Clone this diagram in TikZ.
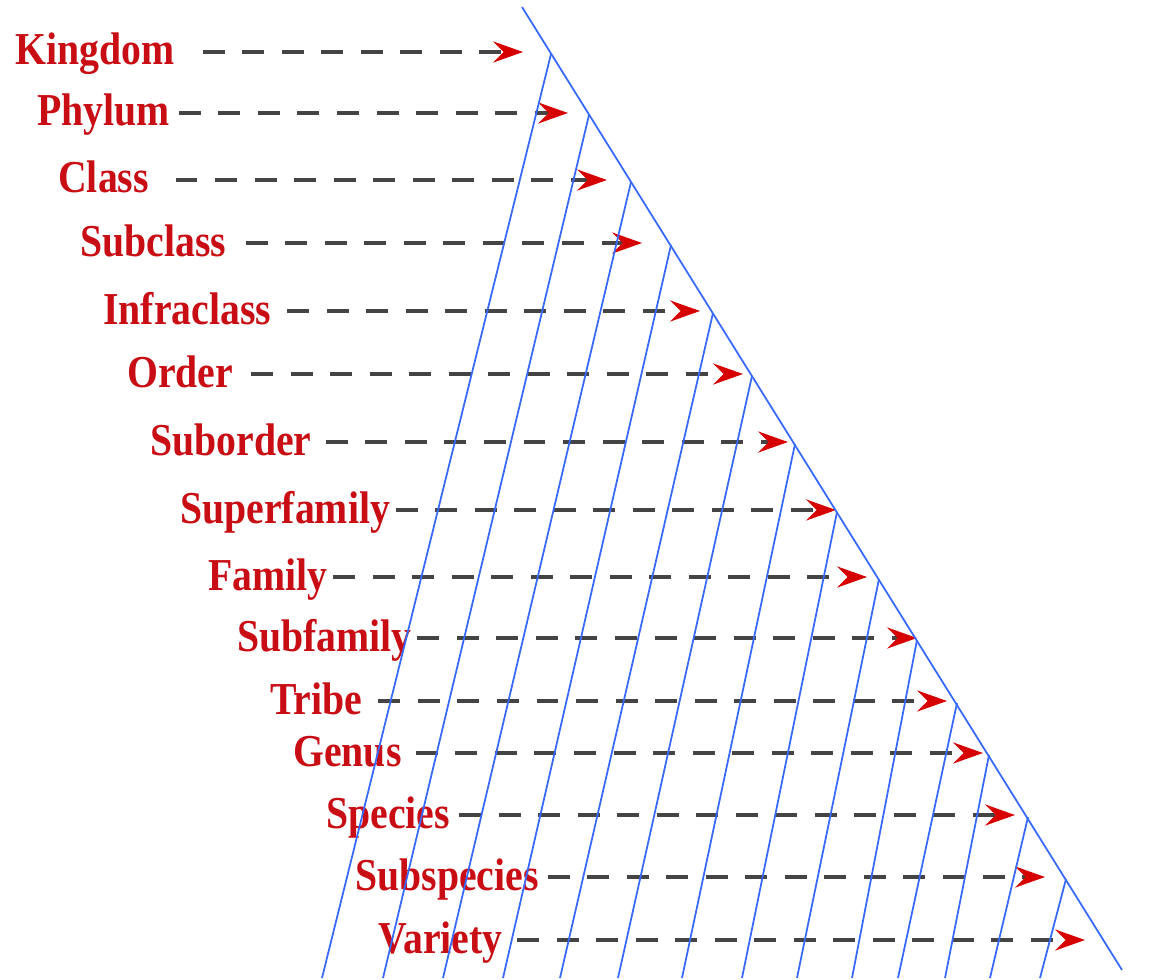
\documentclass[tikz,border=0pt]{standalone}
\usepackage{fontspec}
\setmainfont{Liberation Serif}
\usepackage{xcolor}
\definecolor{RankRed}{RGB}{200,14,20}
\definecolor{TipRed}{RGB}{214,0,0}
\definecolor{RibBlue}{RGB}{55,105,255}
\definecolor{DashGray}{RGB}{68,68,68}
\usetikzlibrary{arrows.meta, calc}

\begin{document}
\begin{tikzpicture}[
  x=0.02cm, y=-0.02cm,
  taxon/.style={
    anchor=base west,
    inner sep=0pt,
    xscale=0.87,
    text=RankRed,
    font=\fontsize{26}{28}\selectfont\bfseries
  },
  lead/.style={
    DashGray,
    line width=1.8pt,
    dash pattern=on 12.5pt off 10pt,
    shorten <=5pt,
    -{Stealth[length=17pt, width=12pt, inset=6pt, color=TipRed]}
  },
  rib/.style={RibBlue, line width=1pt}
]
\useasboundingbox (0,0) rectangle (1153,980);

% ranks, top to bottom
\node[taxon] (kingdom)     at (15,65)   {Kingdom};
\node[taxon] (phylum)      at (37,126)  {Phylum};
\node[taxon] (class)       at (58,193)  {Class};
\node[taxon] (subclass)    at (80,256)  {Subclass};
\node[taxon] (infraclass)  at (103,324) {Infraclass};
\node[taxon] (order)       at (127,387) {Order};
\node[taxon] (suborder)    at (150,455) {Suborder};
\node[taxon] (superfamily) at (180,523) {Superfamily};
\node[taxon] (family)      at (208,590) {Family};
\node[taxon] (subfamily)   at (237,651) {Subfamily};
\node[taxon] (tribe)       at (270,714) {Tribe};
\node[taxon] (genus)       at (293,766) {Genus};
\node[taxon] (species)     at (326,828) {Species};
\node[taxon] (subspecies)  at (355,890) {Subspecies};
\node[taxon] (variety)     at (378,953) {Variety};

% arrow ends
\coordinate (kingdomtip)     at (523,52);
\coordinate (phylumtip)      at (568,113);
\coordinate (classtip)       at (607,180);
\coordinate (subclasstip)    at (642,243);
\coordinate (infraclasstip)  at (700,311);
\coordinate (ordertip)       at (743,374);
\coordinate (subordertip)    at (788,442);
\coordinate (superfamilytip) at (836,510);
\coordinate (familytip)      at (867,577);
\coordinate (subfamilytip)   at (917,638);
\coordinate (tribetip)       at (947,701);
\coordinate (genustip)       at (983,753);
\coordinate (speciestip)     at (1015,815);
\coordinate (subspeciestip)  at (1045,877);
\coordinate (varietytip)     at (1085,940);

\draw[lead, shorten <=16pt] (kingdom.base east |- kingdomtip) -- (kingdomtip);
\draw[lead] (phylum.base east |- phylumtip) -- (phylumtip);
\draw[lead, shorten <=15pt] (class.base east |- classtip) -- (classtip);
\draw[lead, shorten <=11pt] (subclass.base east |- subclasstip) -- (subclasstip);
\draw[lead, shorten <=9pt] (infraclass.base east |- infraclasstip) -- (infraclasstip);
\draw[lead, shorten <=10pt] (order.base east |- ordertip) -- (ordertip);
\draw[lead, shorten <=8pt] (suborder.base east |- subordertip) -- (subordertip);
\draw[lead, shorten <=3pt] (superfamily.base east |- superfamilytip) -- (superfamilytip);
\draw[lead, shorten <=3pt] (family.base east |- familytip) -- (familytip);
\draw[lead, shorten <=3pt] (subfamily.base east |- subfamilytip) -- (subfamilytip);
\draw[lead, shorten <=9pt] (tribe.base east |- tribetip) -- (tribetip);
\draw[lead, shorten <=8pt] (genus.base east |- genustip) -- (genustip);
\draw[lead] (species.base east |- speciestip) -- (speciestip);
\draw[lead] (subspecies.base east |- subspeciestip) -- (subspeciestip);
\draw[lead, shorten <=8pt] (variety.base east |- varietytip) -- (varietytip);

% the blue triangle
\coordinate (apex) at (522,7);
\coordinate (foot) at (1122,970);
\draw[rib] (apex) -- (foot);
\foreach \vx/\vy/\bx in {551/54/322, 589/115/383, 631/182/443, 671/245/503,
    713/313/560, 752/376/618, 795/444/682, 837/512/742, 879/579/797,
    917/640/852, 957/703/898, 989/755/945, 1028/817/990, 1066/879/1040}
  \draw[rib] (\vx,\vy) -- (\bx,978);

\end{tikzpicture}
\end{document}
